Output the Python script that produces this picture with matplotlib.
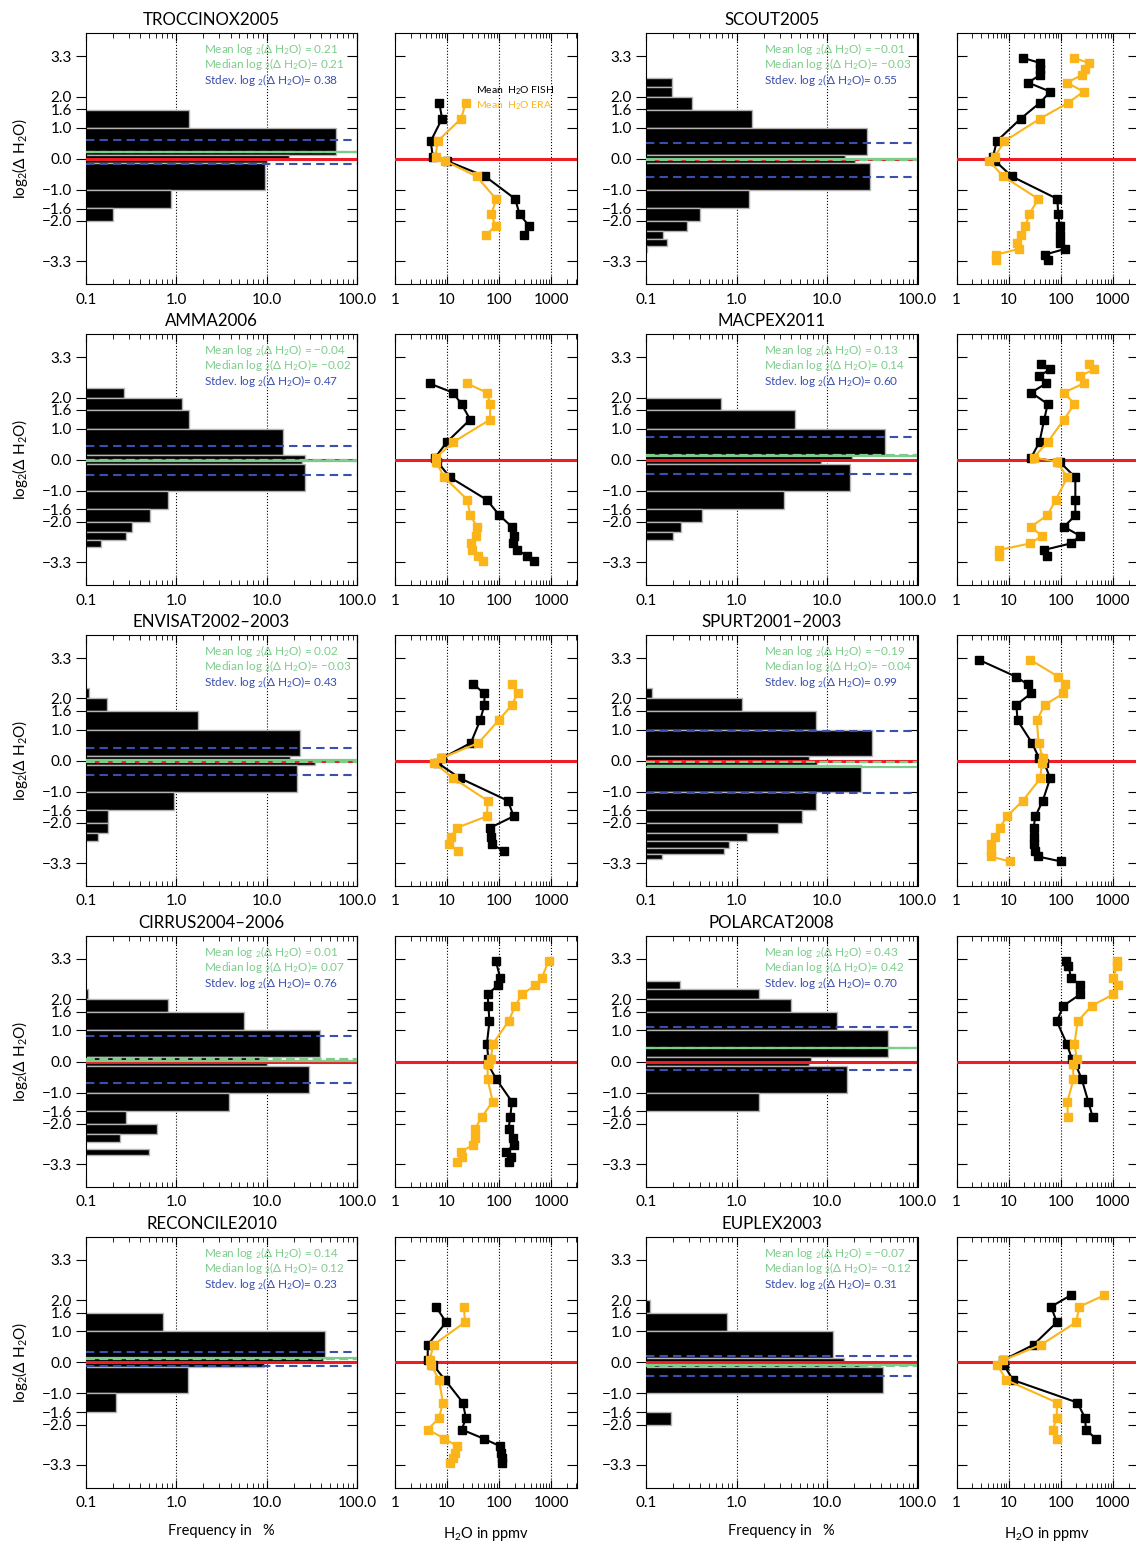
import numpy as np
import matplotlib
matplotlib.use("Agg")
import matplotlib.pyplot as plt
from matplotlib.ticker import LogLocator, NullFormatter

plt.rcParams['font.family'] = ['Lato', 'DejaVu Sans']
plt.rcParams['mathtext.fontset'] = 'custom'
plt.rcParams['mathtext.rm'] = 'Lato'
plt.rcParams['mathtext.it'] = 'Lato:italic'

nan = np.nan

# -----------------------------
# Bins (ratio FISH / ERA) and axis ticks
# -----------------------------
ratio_edges = [1.1, 2, 3, 4, 5, 6, 7, 8, 9, 10]
ytick_vals = [3.3, 2.0, 1.6, 1.0, 0.0, -1.0, -1.6, -2.0, -3.3]
ytick_labels = ["3.3", "2.0", "1.6", "1.0", "0.0", "\u22121.0", "\u22121.6", "\u22122.0", "\u22123.3"]
hist_ticks = [0.1, 1, 10, 100]
hist_ticklabels = ["0.1", "1.0", "10.0", "100.0"]
prof_ticks = [1, 10, 100, 1000]
prof_ticklabels = ["1", "10", "100", "1000"]

# -----------------------------
# Data, bins ordered from top (+3.3) to bottom (-3.3)
# hist = frequency in %, fish / era = mean H2O in ppmv
# stats = mean, median, stdev of log2(dH2O)
# -----------------------------
troccinox_hist = [nan, nan, nan, nan, nan, nan, nan, 1.37, 58.6, 17.5, 10.1, 9.5, 0.87, 0.2, nan, nan, nan, nan, nan, nan]
troccinox_fish = [nan, nan, nan, nan, nan, nan, 7.1, 8.0, 4.85, 5.3, 9.9, 54, 203, 246, 377, 294, nan, nan, nan, nan]
troccinox_era = [nan, nan, nan, nan, nan, nan, 22.6, 18.6, 6.6, 6.0, 9.2, 37, 87, 71, 85, 56, nan, nan, nan, nan]
troccinox_stats = [0.21, 0.21, 0.38]

scout_hist = [nan, nan, nan, nan, 0.195, 0.195, 0.318, 1.5, 27.6, 15.7, 20.4, 30.0, 1.38, 0.39, 0.28, 0.153, 0.168, 0.102, nan, nan]
scout_fish = [19, 40, 40, 40, 23.5, 63, 39, 17, 5.9, 5.0, 5.5, 11.5, 86, 89, 95, 95, 95, 120, 49, 56]
scout_era = [180, 345, 288, 255, 130, 275, 135, 40, 8.3, 5.4, 4.2, 7.9, 37, 24.6, 21, 17.4, 14.5, 15.6, 5.7, 5.8]
scout_stats = [-0.01, -0.03, 0.55]

amma_hist = [nan, nan, nan, nan, nan, 0.266, 1.16, 1.4, 15.2, 26.3, 24.6, 26.8, 0.81, 0.515, 0.323, 0.28, 0.148, nan, nan, nan]
amma_fish = [nan, nan, nan, nan, 4.6, 12.9, 18.9, 27.7, 9.9, 5.9, 6.5, 11.4, 58, 101, 175, 194, 183, 218, 340, 457]
amma_era = [nan, nan, nan, nan, 24, 58, 67, 67, 13.2, 6.1, 6.1, 8.9, 24.6, 27.6, 38, 36, 28.5, 29.6, 40, 48]
amma_stats = [-0.04, -0.02, 0.47]

macpex_hist = [nan, nan, nan, nan, nan, nan, 0.68, 4.4, 44, 18.7, 8.6, 17.8, 3.36, 0.42, 0.245, 0.2, nan, nan, nan, nan]
macpex_fish = [nan, 42, 63, 37.5, 52, 27, 56, 48, 39, 27, 95, 190, 190, 190, 115, 236, 155, 48, 54, nan]
macpex_era = [nan, 345, 433, 236, 275, 115, 183, 115, 56, 30, 85, 133, 80, 55, 26.5, 43.5, 25.8, 6.6, 6.6, nan]
macpex_stats = [0.13, 0.14, 0.60]

envisat_hist = [nan, nan, nan, nan, nan, 0.107, 0.172, 1.74, 23.4, 18.3, 34, 21.7, 0.94, 0.175, 0.175, 0.135, nan, nan, nan, nan]
envisat_fish = [nan, nan, nan, nan, 32, 52, 52, 43, 28.5, 7.9, 6.5, 17.8, 147, 189, 67, 69, 72, 121, nan, nan]
envisat_era = [nan, nan, nan, nan, 175, 225, 175, 97, 40, 7.5, 5.7, 13.2, 60, 58, 15.4, 11.9, 11.1, 16, nan, nan]
envisat_stats = [0.02, -0.03, 0.43]

spurt_hist = [nan, nan, nan, nan, nan, 0.115, 1.15, 7.6, 31.8, 6.3, 7.8, 23.6, 7.5, 5.3, 2.87, 1.29, 0.83, 0.72, 0.15, nan]
spurt_fish = [2.67, nan, nan, 14, 23, 26.7, 14, 14.8, 28, 38.5, 48, 62.5, 45, 32.5, 30, 30, 30, 32.5, 36, 100]
spurt_era = [26, nan, nan, 90, 121, 112, 49, 34.6, 37.5, 45, 43, 40.6, 18.6, 9.3, 6.7, 5.4, 4.5, 4.5, 4.5, 10.4]
spurt_stats = [-0.19, -0.04, 0.99]

cirrus_hist = [nan, nan, nan, nan, nan, 0.105, 0.82, 5.6, 39, 9, 10, 29, 3.83, 0.28, 0.62, 0.24, nan, 0.5, nan, nan]
cirrus_fish = [86, nan, nan, 104, 94, 60, 62, 65, 58, 62, 60, 88, 175, 163, 151, 183, 189, 136, 167, 151]
cirrus_era = [890, nan, nan, 660, 495, 273, 203, 151, 75.5, 69, 60, 60, 75, 46, 34.5, 33.6, 31, 18.3, 19.2, 15.4]
cirrus_stats = [0.01, 0.07, 0.76]

polarcat_hist = [nan, nan, nan, nan, 0.237, 1.75, 3.95, 12.8, 47.3, 6.67, 6.4, 16.6, 1.77, nan, nan, nan, nan, nan, nan, nan]
polarcat_fish = [126, 140, nan, 157, 234, 234, 112, 84, 130, 165, 190, 252, 337, 409, nan, nan, nan, nan, nan, nan]
polarcat_era = [1210, 1210, nan, 1015, 1260, 1015, 391, 211, 183, 203, 170, 175, 134, 136, nan, nan, nan, nan, nan, nan]
polarcat_stats = [0.43, 0.42, 0.70]

reconcile_hist = [nan, nan, nan, nan, nan, nan, nan, 0.72, 44.6, 42, 9.3, 1.35, 0.215, nan, nan, nan, nan, nan, nan, nan]
reconcile_fish = [nan, nan, nan, nan, nan, nan, 6.1, 9.6, 4.25, 4.25, 5.3, 9.2, 20, 23, 19.1, 50, 104, 107, 112, 112]
reconcile_era = [nan, nan, nan, nan, nan, nan, 21, 22, 5.5, 4.6, 4.9, 7.0, 8.3, 7.0, 4.25, 8.9, 15.4, 14.3, 12.9, 11.4]
reconcile_stats = [0.14, 0.12, 0.23]

euplex_hist = [nan, nan, nan, nan, nan, nan, 0.109, 0.79, 11.6, 15.6, 25, 41.7, nan, 0.19, nan, nan, nan, nan, nan, nan]
euplex_fish = [nan, nan, nan, nan, nan, 155, 65, 84, 30, 7.8, 8, 12.1, 208, 292, 303, 466, nan, nan, nan, nan]
euplex_era = [nan, nan, nan, nan, nan, 680, 227, 196, 42, 7.8, 6.0, 9.0, 84, 84, 70, 84, nan, nan, nan, nan]
euplex_stats = [-0.07, -0.12, 0.31]

campaigns = [
    ("TROCCINOX2005", troccinox_hist, troccinox_fish, troccinox_era, troccinox_stats),
    ("SCOUT2005", scout_hist, scout_fish, scout_era, scout_stats),
    ("AMMA2006", amma_hist, amma_fish, amma_era, amma_stats),
    ("MACPEX2011", macpex_hist, macpex_fish, macpex_era, macpex_stats),
    ("ENVISAT2002\u20132003", envisat_hist, envisat_fish, envisat_era, envisat_stats),
    ("SPURT2001\u20132003", spurt_hist, spurt_fish, spurt_era, spurt_stats),
    ("CIRRUS2004\u20132006", cirrus_hist, cirrus_fish, cirrus_era, cirrus_stats),
    ("POLARCAT2008", polarcat_hist, polarcat_fish, polarcat_era, polarcat_stats),
    ("RECONCILE2010", reconcile_hist, reconcile_fish, reconcile_era, reconcile_stats),
    ("EUPLEX2003", euplex_hist, euplex_fish, euplex_era, euplex_stats),
]

# bin geometry in log2 space
pos = np.log2(ratio_edges)
edges = np.concatenate([pos[::-1], [0.0], -pos])
tops, bots = edges[:-1], edges[1:]
centers = (tops + bots) / 2
heights = tops - bots

green = '#7dcc8c'
blue = '#3a4fb0'
red = '#ee1c25'
orange = '#fbb51a'

W, H = 1136, 1544
fig = plt.figure(figsize=(W / 100, H / 100), dpi=100)


def box(x0, y0, w, h):
    return [x0 / W, 1 - (y0 + h) / H, w / W, h / H]


def fmt(v):
    return f"{v:.2f}".replace('-', '\u2212')


def y_ticks(ax, labels):
    ax.set_ylim(-4.04, 4.04)
    ax.set_yticks(ytick_vals)
    if labels:
        ax.set_yticklabels(ytick_labels, fontsize=11)
    else:
        ax.set_yticklabels([])


def x_log_ticks(ax, ticks, labels):
    ax.set_xscale('log')
    ax.set_xticks(ticks)
    ax.set_xticklabels(labels, fontsize=11)
    ax.xaxis.set_minor_locator(LogLocator(base=10, subs=np.arange(2, 10)))
    ax.xaxis.set_minor_formatter(NullFormatter())
    ax.tick_params(axis='x', which='both', direction='in', top=True, bottom=True, pad=6)
    ax.tick_params(axis='x', which='major', length=6)
    ax.tick_params(axis='x', which='minor', length=3.5)


def draw_hist(ax, hist, stats):
    vals = np.array(hist, float)
    m = ~np.isnan(vals)
    ax.barh(centers[m], vals[m], height=heights[m], left=1e-3, color='black',
            edgecolor='#b4b4b4', linewidth=1.0, zorder=2)
    x_log_ticks(ax, hist_ticks, hist_ticklabels)
    ax.set_xlim(0.1, 100)
    y_ticks(ax, True)
    ax.tick_params(axis='y', direction='out', length=7, left=True, right=False, pad=3)
    sec = ax.secondary_yaxis('right')
    sec.set_yticks(ytick_vals)
    sec.set_yticklabels([])
    sec.tick_params(direction='in', length=7)
    for xv in [1, 10]:
        ax.axvline(xv, color='black', ls=':', lw=0.8, zorder=1)
    mean, med, std = stats
    ax.axhline(0, color=red, lw=2.2, zorder=3)
    ax.axhline(mean, color=green, lw=1.6, zorder=4)
    ax.axhline(med, color=green, lw=1.6, ls=(0, (4, 2)), zorder=4)
    ax.axhline(med + std, color=blue, lw=1.5, ls=(0, (4, 2.5)), zorder=4)
    ax.axhline(med - std, color=blue, lw=1.5, ls=(0, (4, 2.5)), zorder=4)
    ax.text(0.434, 0.936, f"Mean log $_2$(\u0394 H$_2$O) = {fmt(mean)}", color=green,
            transform=ax.transAxes, fontsize=8.5, va='center')
    ax.text(0.434, 0.876, f"Median log $_2$(\u0394 H$_2$O)= {fmt(med)}", color=green,
            transform=ax.transAxes, fontsize=8.5, va='center')
    ax.text(0.434, 0.813, f"Stdev. log $_2$(\u0394 H$_2$O)= {fmt(std)}", color=blue,
            transform=ax.transAxes, fontsize=8.5, va='center')


def draw_profile(ax, fish, era):
    for series, col in [(fish, 'black'), (era, orange)]:
        vals = np.array(series, float)
        m = ~np.isnan(vals)
        ax.plot(vals[m], centers[m], '-s', color=col, lw=1.5, ms=5.5, zorder=4)
    x_log_ticks(ax, prof_ticks, prof_ticklabels)
    ax.set_xlim(1, 3070)
    y_ticks(ax, False)
    ax.tick_params(axis='y', direction='in', length=7, left=True, right=True)
    for xv in [10, 100, 1000]:
        ax.axvline(xv, color='black', ls=':', lw=0.8, zorder=1)
    ax.axhline(0, color=red, lw=2.2, zorder=3)


hist_x = [85.7, 646.0]
prof_x = [395.0, 956.6]
hist_w, prof_w = 271.5, 181.7
row_y0 = 33.3
row_step = 300.9
row_h = 251

for i, (name, hist, fish, era, stats) in enumerate(campaigns):
    row, col = divmod(i, 2)
    y0 = row_y0 + row * row_step
    axh = fig.add_axes(box(hist_x[col], y0, hist_w, row_h))
    draw_hist(axh, hist, stats)
    axp = fig.add_axes(box(prof_x[col], y0, prof_w, row_h))
    draw_profile(axp, fish, era)
    fig.text((hist_x[col] + hist_w / 2 - 10) / W, 1 - (y0 - 13) / H, name,
             ha='center', va='center', fontsize=12.2)
    if col == 0:
        fig.text(20 / W, 1 - (y0 + row_h / 2) / H, "log$_2$(\u0394 H$_2$O)", rotation=90,
                 ha='center', va='center', fontsize=11)
    if i == 0:
        axp.text(0.446, 0.771, "Mean  H$_2$O FISH", color='black', fontsize=7.5,
                 transform=axp.transAxes, va='center')
        axp.text(0.446, 0.71, "Mean  H$_2$O ERA", color=orange, fontsize=7.5,
                 transform=axp.transAxes, va='center')

for col in range(2):
    fig.text((hist_x[col] + hist_w / 2) / W, 1 - 1531 / H, "Frequency in   %",
             ha='center', va='center', fontsize=10.5)
    fig.text((prof_x[col] + prof_w / 2) / W, 1 - 1534 / H, "H$_2$O in ppmv",
             ha='center', va='center', fontsize=10.5)

fig.savefig("out.png", dpi=100)
